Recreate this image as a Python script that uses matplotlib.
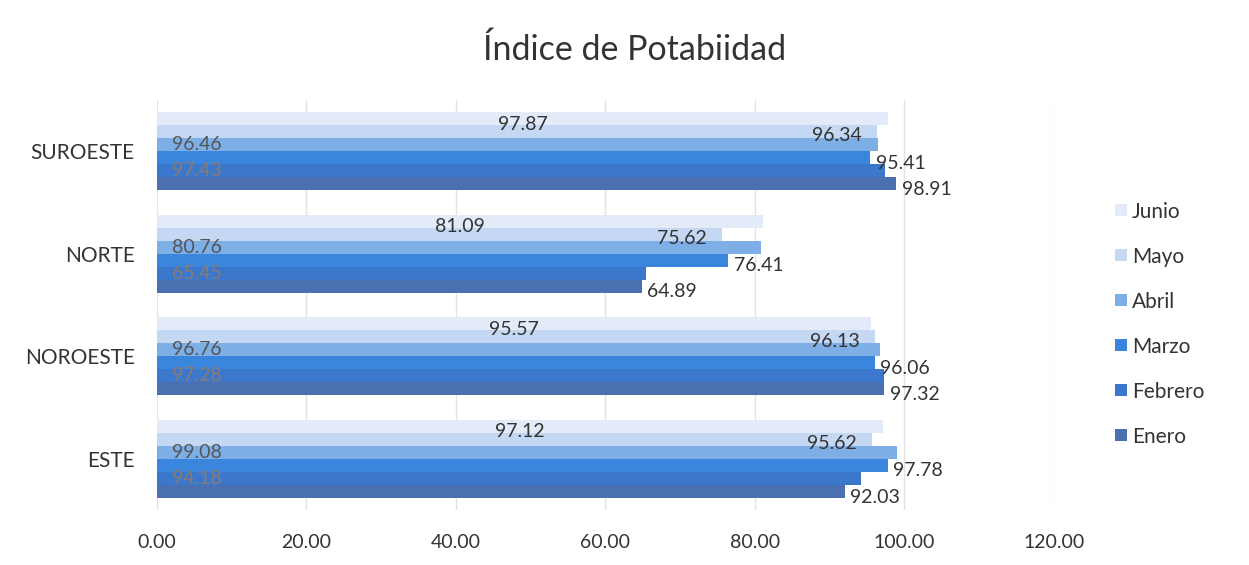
import matplotlib
matplotlib.use("Agg")
import matplotlib.pyplot as plt
import numpy as np

plt.rcParams['font.family'] = ['Lato', 'DejaVu Sans']

categories = ["ESTE", "NOROESTE", "NORTE", "SUROESTE"]
series_names = ["Enero", "Febrero", "Marzo", "Abril", "Mayo", "Junio"]
enero   = [92.03, 97.32, 64.89, 98.91]
febrero = [94.18, 97.28, 65.45, 97.43]
marzo   = [97.78, 96.06, 76.41, 95.41]
abril   = [99.08, 96.76, 80.76, 96.46]
mayo    = [95.62, 96.13, 75.62, 96.34]
junio   = [97.12, 95.57, 81.09, 97.87]
xticks = [0, 20, 40, 60, 80, 100, 120]

series = [enero, febrero, marzo, abril, mayo, junio]
colors = ["#4a70b0", "#3b78cc", "#3a86dc", "#7eaee6", "#c5d8f3", "#e3ebf8"]
label_modes = [("outside_end", "#333333"), ("inside_base", "#8a7a72"),
               ("outside_end", "#333333"), ("inside_base", "#555555"),
               ("inside_end", "#333333"), ("center", "#333333")]

fig = plt.figure(figsize=(12.49, 5.65), dpi=100)
ax = fig.add_axes([0.1257, 0.097, 0.718, 0.726])

y = np.arange(len(categories))
h = 0.127
n = len(series)
fs = 14
for i, (vals, c) in enumerate(zip(series, colors)):
    offs = (i - (n - 1) / 2) * h
    ax.barh(y + offs, vals, height=h, color=c, label=series_names[i], zorder=2)
    mode, tc = label_modes[i]
    for yy, v in zip(y + offs, vals):
        txt = f"{v:.2f}"
        if mode == "outside_end":
            ax.annotate(txt, (v, yy), xytext=(4, -4), textcoords="offset points",
                        ha="left", va="center", fontsize=fs, color=tc, zorder=3)
        elif mode == "inside_base":
            ax.annotate(txt, (0, yy), xytext=(11, 0), textcoords="offset points",
                        ha="left", va="center", fontsize=fs, color=tc, zorder=3)
        elif mode == "inside_end":
            ax.annotate(txt, (v, yy), xytext=(-11, -3), textcoords="offset points",
                        ha="right", va="center", fontsize=fs, color=tc, zorder=3)
        else:
            ax.annotate(txt, (v / 2, yy), xytext=(0, -4), textcoords="offset points",
                        ha="center", va="center", fontsize=fs, color=tc, zorder=3)

ax.set_xlim(0, 120)
ax.set_ylim(-0.5, len(categories) - 0.5)
ax.set_xticks(xticks)
ax.set_xticklabels([f"{t:.2f}" for t in xticks], fontsize=14, color="#333333")
ax.set_yticks(y)
ax.set_yticklabels(categories, fontsize=15, color="#333333")
ax.tick_params(axis="both", length=0)
ax.tick_params(axis="x", pad=17)
ax.tick_params(axis="y", pad=16)
ax.xaxis.grid(True, color="#e3e3e3", linewidth=1, zorder=0)
ax.set_axisbelow(True)
for s in ax.spines.values():
    s.set_visible(False)

fig.text(0.508, 0.912, "Índice de Potabiidad", ha="center", va="center",
         fontsize=24.5, color="#333333")

handles, labels = ax.get_legend_handles_labels()
fig.legend(handles[::-1], labels[::-1], loc="center left",
           bbox_to_anchor=(0.878, 0.4265), frameon=False, fontsize=15,
           handlelength=0.55, handleheight=0.55, handletextpad=0.25,
           labelspacing=1.2, labelcolor="#333333")

fig.savefig("out.png", dpi=100)
